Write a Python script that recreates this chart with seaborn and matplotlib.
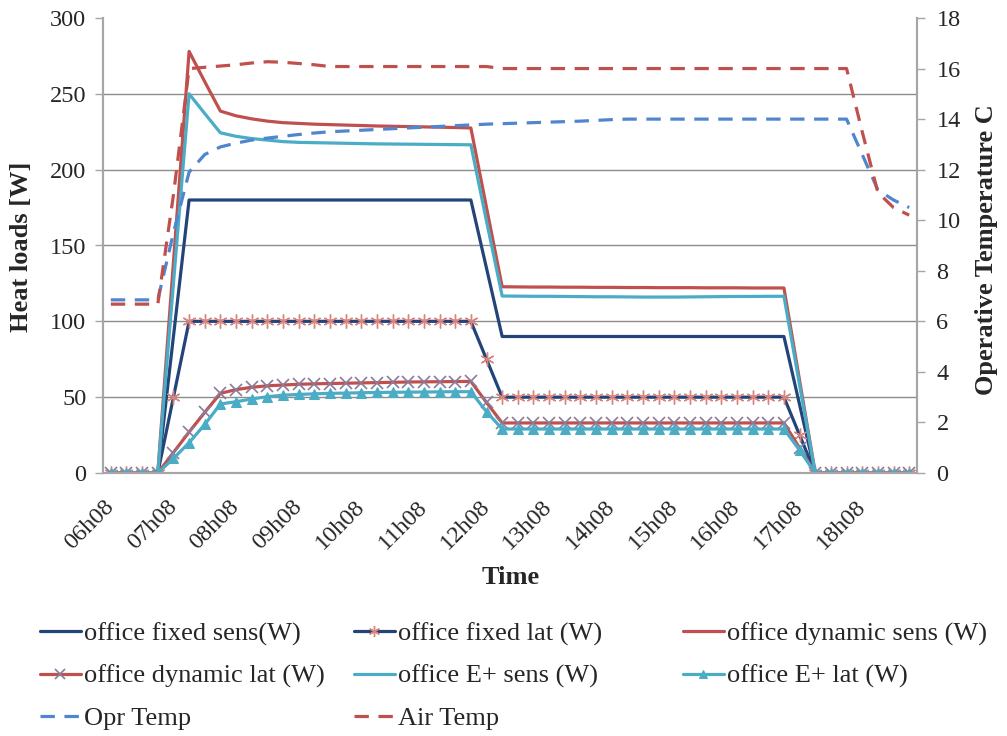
import matplotlib
matplotlib.use("Agg")
import matplotlib.pyplot as plt
import seaborn as sns
import pandas as pd
import numpy as np

# ---------------- data ----------------
times = ["06h08", "06h23", "06h38", "06h53",
         "07h08", "07h23", "07h38", "07h53",
         "08h08", "08h23", "08h38", "08h53",
         "09h08", "09h23", "09h38", "09h53",
         "10h08", "10h23", "10h38", "10h53",
         "11h08", "11h23", "11h38", "11h53",
         "12h08", "12h23", "12h38", "12h53",
         "13h08", "13h23", "13h38", "13h53",
         "14h08", "14h23", "14h38", "14h53",
         "15h08", "15h23", "15h38", "15h53",
         "16h08", "16h23", "16h38", "16h53",
         "17h08", "17h23", "17h38", "17h53",
         "18h08", "18h23", "18h38", "18h53"]

tick_labels = ["06h08", "07h08", "08h08", "09h08", "10h08", "11h08", "12h08",
               "13h08", "14h08", "15h08", "16h08", "17h08", "18h08"]

fixed_sens = ([0, 0, 0, 0, 90] + [180] * 19 + [135] + [90] * 19 + [45] + [0] * 7)
fixed_lat = ([0, 0, 0, 0, 50] + [100] * 19 + [75] + [50] * 19 + [25] + [0] * 7)
dyn_sens = ([0, 0, 0, 0, 139, 278, 258, 238.6,
             235.5, 233.5, 232, 231, 230.5, 230, 229.7, 229.4,
             229.1, 228.8, 228.6, 228.4, 228.2, 228, 227.8, 227.5,
             175, 122.8,
             122.7, 122.6, 122.6, 122.5, 122.5, 122.4, 122.4, 122.3, 122.3,
             122.2, 122.2, 122.2, 122.1, 122.1, 122.1, 122.0, 122.0, 122.0,
             61] + [0] * 7)
eplus_sens = ([0, 0, 0, 0, 125, 250, 237, 224.3,
               222, 220.5, 219.5, 218.5, 218, 217.8, 217.6, 217.4,
               217.2, 217, 216.9, 216.8, 216.7, 216.6, 216.5, 216.4,
               166, 116.7,
               116.6, 116.5, 116.5, 116.4, 116.3, 116.2, 116.2, 116.1, 116.0,
               116.0, 116.0, 116.1, 116.2, 116.3, 116.4, 116.4, 116.5, 116.5,
               58] + [0] * 7)
dyn_lat = ([0, 0, 0, 0, 13.5, 27, 40, 52.5,
            55, 56.5, 57.5, 58, 58.5, 58.8, 59, 59.2,
            59.4, 59.6, 59.8, 60, 60.1, 60.2, 60.3, 60.4,
            46.5] + [33] * 19 + [16.5] + [0] * 7)
eplus_lat = ([0, 0, 0, 0, 9.6, 20, 32, 45.5,
              47, 48.8, 50.3, 51.3, 51.8, 52.2, 52.5, 52.7,
              52.9, 53.1, 53.2, 53.3, 53.4, 53.5, 53.6, 53.6,
              40.4] + [29] * 19 + [15] + [0] * 7)
opr_temp = ([6.85, 6.85, 6.85, 6.85, 9.5, 11.9, 12.6, 12.9,
             13.05, 13.17, 13.25, 13.32, 13.39, 13.45, 13.5, 13.53,
             13.56, 13.59, 13.62, 13.65, 13.68, 13.71, 13.74, 13.77,
             13.8, 13.82, 13.84, 13.86, 13.88, 13.9, 13.92, 13.95, 13.98]
            + [14.0] * 15 + [12.6, 11.2, 10.8, 10.5])
air_temp = ([6.68, 6.68, 6.68, 6.68, 11.0, 16.0, 16.05, 16.1,
             16.15, 16.22, 16.27, 16.25, 16.2, 16.15]
            + [16.08] * 11 + [16.0] * 23 + [13.5, 11.1, 10.5, 10.2])

df = pd.DataFrame({
    "time": times,
    "office fixed sens(W)": fixed_sens,
    "office fixed lat (W)": fixed_lat,
    "office dynamic sens (W)": dyn_sens,
    "office dynamic lat (W)": dyn_lat,
    "office E+ sens (W)": eplus_sens,
    "office E+ lat (W)": eplus_lat,
    "Opr Temp": opr_temp,
    "Air Temp": air_temp,
})

# ---------------- style ----------------
sns.set_style("white")
plt.rcParams["font.family"] = ["Liberation Serif", "DejaVu Serif"]
plt.rcParams["lines.scale_dashes"] = True

NAVY = "#234479"
RED = "#C0504D"
CYAN = "#4BACC6"
BLUE = "#4F86CF"
GRID = "#8C8C8C"
AXC = "#A6A6A6"
TICK_FS = 17.5
LEG_FS = 19
TITLE_FS = 19

fig = plt.figure(figsize=(10.07, 7.36), dpi=100)
ax = fig.add_axes([103 / 1007, 1 - 473 / 736, 814 / 1007, 455 / 736])
ax2 = ax.twinx()

lw = 2.3
sns.lineplot(data=df, x="time", y="office fixed sens(W)", ax=ax, color=NAVY,
             lw=lw, label="office fixed sens(W)")
sns.lineplot(data=df, x="time", y="office fixed lat (W)", ax=ax, color=NAVY,
             lw=lw, marker=(6, 2, 0), markersize=10, markeredgecolor="#D8847F",
             markeredgewidth=1.0, label="office fixed lat (W)")
sns.lineplot(data=df, x="time", y="office dynamic sens (W)", ax=ax, color=RED,
             lw=lw, label="office dynamic sens (W)")
sns.lineplot(data=df, x="time", y="office dynamic lat (W)", ax=ax, color=RED,
             lw=lw, marker="x", markersize=9, markeredgecolor="#8A7C9C",
             markeredgewidth=1.2, label="office dynamic lat (W)")
sns.lineplot(data=df, x="time", y="office E+ sens (W)", ax=ax, color=CYAN,
             lw=lw, label="office E+ sens (W)")
sns.lineplot(data=df, x="time", y="office E+ lat (W)", ax=ax, color=CYAN,
             lw=lw, marker="^", markersize=7, markeredgecolor=CYAN,
             markerfacecolor=CYAN, label="office E+ lat (W)")
sns.lineplot(data=df, x="time", y="Opr Temp", ax=ax2, color=BLUE,
             lw=lw, linestyle=(0, (4.5, 3)), label="Opr Temp")
sns.lineplot(data=df, x="time", y="Air Temp", ax=ax2, color=RED,
             lw=lw, linestyle=(0, (4.5, 3)), label="Air Temp")

for a in (ax, ax2):
    if a.get_legend() is not None:
        a.get_legend().remove()

# axes limits / ticks
n = len(times)
ax.set_xlim(-0.5, n - 0.5)
ax.set_ylim(0, 300)
ax2.set_ylim(0, 18)
ax.set_yticks(np.arange(0, 301, 50))
ax2.set_yticks(np.arange(0, 19, 2))
tick_pos = [times.index(t) for t in tick_labels]
ax.set_xticks(tick_pos)
ax.set_xticklabels(tick_labels, rotation=45, ha="right", va="center",
                   rotation_mode="anchor", fontsize=TICK_FS)
ax.set_xticks(np.arange(-0.5, n, 1.0), minor=True)
ax.tick_params(axis="x", which="major", length=0, pad=22)
ax.tick_params(axis="x", which="minor", length=7, color=AXC, width=1, direction="out")
ax.tick_params(axis="y", which="major", length=6, color=AXC, width=1,
               labelsize=TICK_FS, direction="out", pad=6)
ax2.tick_params(axis="y", which="major", length=6, color=AXC, width=1,
                labelsize=TICK_FS, direction="out", pad=8)
ax.set_xlabel("")
ax.set_ylabel("")
ax2.set_xlabel("")
ax2.set_ylabel("")

# grid (only interior lines)
for v in range(50, 300, 50):
    ax.axhline(v, color=GRID, lw=1.0, zorder=0.5)

for a in (ax, ax2):
    a.spines["top"].set_visible(False)
    for s in ("left", "right", "bottom"):
        a.spines[s].set_color(AXC)
        a.spines[s].set_linewidth(1.5)
    a.patch.set_visible(False)

fig.text(22 / 1007, 1 - 247 / 736, "Heat loads [W]", rotation=90, ha="center",
         va="center", fontsize=TITLE_FS, fontweight="bold")
fig.text(987 / 1007, 1 - 250 / 736, "Operative Temperature C", rotation=90,
         ha="center", va="center", fontsize=TITLE_FS, fontweight="bold")
fig.text(511 / 1007, 1 - 578 / 736, "Time", ha="center", va="center",
         fontsize=TITLE_FS, fontweight="bold")

# legend: three columns placed explicitly
handles = {l.get_label(): l for l in ax.get_lines() + ax2.get_lines()
           if not l.get_label().startswith("_")}
cols = [["office fixed sens(W)", "office dynamic lat (W)", "Opr Temp"],
        ["office fixed lat (W)", "office E+ sens (W)", "Air Temp"],
        ["office dynamic sens (W)", "office E+ lat (W)"]]
col_x = [40, 354, 683]
for labels, x0 in zip(cols, col_x):
    fig.legend([handles[l] for l in labels], labels, loc="upper left",
               bbox_to_anchor=(x0 / 1007, 1 - 622 / 736), frameon=False,
               fontsize=LEG_FS, handlelength=1.55, handletextpad=0.12,
               borderpad=0, borderaxespad=0, labelspacing=0.7, markerscale=0.8)

fig.savefig("out.png", dpi=100)
